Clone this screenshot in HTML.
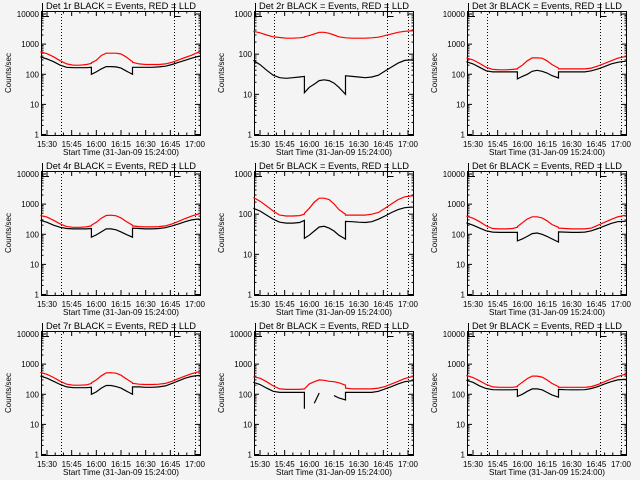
<!DOCTYPE html>
<html><head><meta charset="utf-8"><style>
html,body{margin:0;padding:0;background:#f4f4f4;}
svg{display:block;font-family:"Liberation Sans",sans-serif;}
</style></head><body>
<svg id="chart" width="640" height="480" viewBox="0 0 640 480"></svg>
<script>
// Times in minutes after 15:00 (duplicates mark jumps)
const times=[26,30,34,38,42,46,50,54,57,57,60,63,66,69,72,75,78,82,82,86,90,94,98,102,106,110,114,118,122,123];
const xTickLabels=["15:30","15:45","16:00","16:15","16:30","16:45","17:00"];
const xTickMinutes=[30,45,60,75,90,105,120];
const markerMinutes=[38.5,107.5,120];
const panelNames=["Det 1r","Det 2r","Det 3r","Det 4r","Det 5r","Det 6r","Det 7r","Det 8r","Det 9r"];
const panelMaxDecade=[4,3,4,4,3,4,4,4,4];
const red1=[550,480,380,280,220,200,200,210,230,240,290,420,500,500,500,470,380,260,250,220,210,210,210,220,250,300,360,430,540,580];
const black1=[380,320,260,200,170,165,165,165,170,100,120,150,180,180,175,160,130,100,170,170,170,170,175,185,210,250,290,340,390,390];
const red2=[370,340,300,270,260,250,250,255,265,270,290,320,350,350,330,300,270,255,255,250,250,250,255,265,290,320,350,370,380,380];
const black2=[70,55,40,30,26,25,26,27,28,11,15,18,22,23,22,19,15,10,29,28,27,26,27,30,38,48,60,70,72,72];
const red3=[350,300,230,170,145,140,140,145,150,155,200,280,350,350,340,280,210,160,150,150,150,150,150,160,190,230,280,340,380,380];
const black3=[260,220,170,130,120,120,120,120,120,70,85,100,125,135,125,110,90,75,120,120,120,120,120,130,150,180,220,250,270,270];
const red4=[420,370,290,220,180,170,170,175,190,200,250,340,420,430,410,350,270,200,190,180,175,175,180,190,220,270,330,400,470,480];
const black4=[290,250,200,170,155,150,150,150,155,80,95,120,150,150,140,120,100,80,160,155,150,150,155,165,190,220,260,300,320,310];
const red5=[260,210,160,120,95,90,90,92,100,105,140,200,250,250,230,180,130,100,95,95,95,95,100,110,140,180,230,270,285,285];
const black5=[140,120,95,75,63,60,60,62,70,25,30,38,48,50,45,38,30,24,66,65,63,62,65,75,90,110,130,145,150,150];
const red6=[400,340,260,190,155,150,150,155,170,180,240,320,380,380,350,280,210,170,160,155,150,150,150,160,200,250,310,380,420,420];
const black6=[240,200,160,130,118,115,115,115,115,60,70,85,105,110,100,85,70,55,120,118,115,115,118,130,155,190,230,260,270,270];
const red7=[530,460,360,270,215,200,200,205,230,240,300,410,510,520,500,430,330,240,230,215,210,210,215,230,270,330,400,480,550,560];
const black7=[400,340,270,210,175,165,165,165,170,100,120,160,195,195,180,160,130,100,175,175,170,170,175,190,230,280,340,390,420,420];
const red8=[380,340,260,190,150,145,145,145,150,150,220,260,300,290,270,260,240,200,160,150,150,150,150,160,180,220,270,330,380,380];
const black8=[250,210,160,125,115,115,115,115,115,33,null,50,110,null,null,90,75,65,115,115,115,115,115,125,150,180,220,260,280,280];
const red9=[420,360,280,210,175,170,170,170,180,190,250,330,400,400,370,300,230,180,170,170,170,170,170,180,210,260,320,390,450,450];
const black9=[290,250,190,155,142,140,140,140,145,85,100,125,150,150,140,115,95,80,145,142,140,140,142,155,180,220,260,300,310,310];
const redSeries=[red1,red2,red3,red4,red5,red6,red7,red8,red9];
const blackSeries=[black1,black2,black3,black4,black5,black6,black7,black8,black9];

const NS="http://www.w3.org/2000/svg";
const svg=document.getElementById('chart');
function mk(tag,attrs,parent){const e=document.createElementNS(NS,tag);for(const k in attrs)e.setAttribute(k,attrs[k]);(parent||svg).appendChild(e);return e;}
const colX=[41,254,467], rowY=[11,171,331], W=159, H=124;
for(let p=0;p<9;p++){
  const x0=colX[p%3], y0=rowY[Math.floor(p/3)], maxD=panelMaxDecade[p];
  const g=mk('g',{});
  
  
  const xs=m=>x0+6+(m-30)*148/90;
  const ys=v=>y0+123.5-(Math.log10(v))*(120.5/maxD);
  // frame
  const fr=mk('rect',{x:x0+0.5,y:y0+0.5,width:W,height:H,fill:'none',stroke:'#000','stroke-width':1},g);
  
  
  // y ticks
  for(let d=0;d<=maxD;d++){
    const y=ys(Math.pow(10,d));
    mk('line',{x1:x0,x2:x0+5,y1:y,y2:y,stroke:'#000'},g);
    mk('line',{x1:x0+W-4,x2:x0+W+1,y1:y,y2:y,stroke:'#000'},g);
    const t=mk('text',{x:x0-2,y:y+3,'font-size':8,'text-anchor':'end',fill:'#000'},g);
    t.textContent=String(Math.pow(10,d));
    
    
    if(d<maxD)for(let k=2;k<10;k++){const yy=ys(k*Math.pow(10,d));
      mk('line',{x1:x0,x2:x0+2.5,y1:yy,y2:yy,stroke:'#000'},g);
      mk('line',{x1:x0+W-1.5,x2:x0+W+1,y1:yy,y2:yy,stroke:'#000'},g);}
  }
  // x ticks
  for(let m=30;m<=120;m+=5){const x=xs(m),L=(m%15===0)?5:2.5;
    mk('line',{x1:x,x2:x,y1:y0+H,y2:y0+H-L,stroke:'#000'},g);
    mk('line',{x1:x,x2:x,y1:y0,y2:y0+L,stroke:'#000'},g);}
  xTickLabels.forEach((lab,i)=>{const t=mk('text',{x:xs(xTickMinutes[i]),y:y0+136,'font-size':8,'text-anchor':'middle',fill:'#000'},g);
    t.textContent=lab;
    
    });
  const xt=mk('text',{x:x0+80,y:y0+144,'font-size':8.5,'text-anchor':'middle',fill:'#000',textLength:116,lengthAdjust:'spacingAndGlyphs'},g);
  xt.textContent='Start Time (31-Jan-09 15:24:00)';
  
  
  const yt=mk('text',{x:0,y:0,'font-size':8,'text-anchor':'middle',fill:'#000',transform:`translate(${x0-30},${y0+62}) rotate(-90)`},g);
  yt.textContent='Counts/sec';
  
  
  const tt=mk('text',{x:x0+80,y:y0-2,'font-size':9.5,'text-anchor':'middle',fill:'#000',textLength:150,lengthAdjust:'spacingAndGlyphs'},g);
  tt.textContent=panelNames[p]+' BLACK = Events, RED = LLD';
  
  
  // dotted markers
  markerMinutes.forEach(m=>{const x=Math.round(xs(m))+0.5;
    const l=mk('line',{x1:x,x2:x,y1:y0,y2:y0+H,stroke:'#000','stroke-dasharray':'1,2'},g);
    
    });
  // bracket marks
  mk('polyline',{points:`${x0+1.5},${y0-8} ${x0+1.5},${y0+5.5} ${x0+8},${y0+5.5}`,fill:'none',stroke:'#000'},g);
  const xm=Math.round(xs(markerMinutes[1]))+0.5;
  mk('polyline',{points:`${xm},${y0-8} ${xm},${y0+5.5} ${xm+6},${y0+5.5}`,fill:'none',stroke:'#000'},g);
  // series
  function path(vals){let d='',pen=false;
    for(let i=0;i<times.length;i++){const v=vals[i];
      if(v==null){pen=false;continue;}
      d+=(pen?'L':'M')+xs(times[i]).toFixed(1)+','+ys(v).toFixed(1);pen=true;}
    return d;}
  const rp=mk('path',{d:path(redSeries[p]),fill:'none',stroke:'#ff0000','stroke-width':1.2},g);
  
  
  const bp=mk('path',{d:path(blackSeries[p]),fill:'none',stroke:'#000','stroke-width':1.2},g);
  
  
}
</script>
</body></html>
